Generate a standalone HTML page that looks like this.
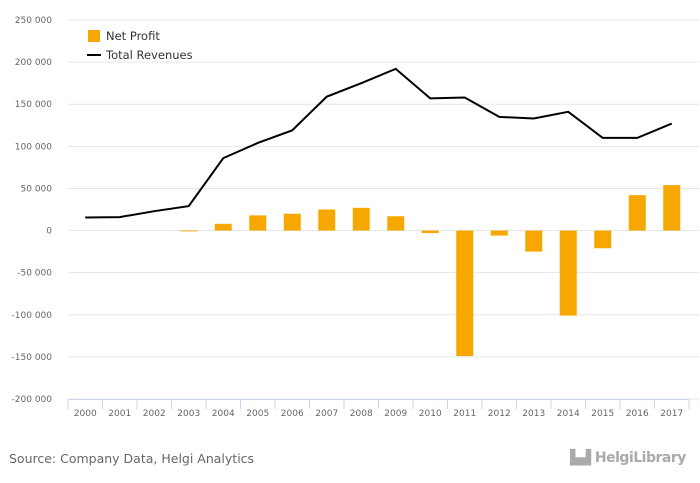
<!DOCTYPE html>
<html><head><meta charset="utf-8"><style>
body{margin:0;background:#fff;font-family:"DejaVu Sans","Liberation Sans",sans-serif;}
#wrap{position:relative;width:700px;height:483px;overflow:hidden;}
</style></head><body><div id="wrap">
<svg id="chart" width="700" height="483" style="font-family:'DejaVu Sans','Liberation Sans',sans-serif"></svg>
<div style="position:absolute;left:9px;top:451px;font-size:12.5px;color:#666;">Source: Company Data, Helgi Analytics</div>
<div style="position:absolute;left:570px;top:450px;font-size:14px;color:#aaa;font-weight:bold;letter-spacing:-0.5px;">▙▟ HelgiLibrary</div>
</div>
<script>
const categories=["2000","2001","2002","2003","2004","2005","2006","2007","2008","2009","2010","2011","2012","2013","2014","2015","2016","2017"];
const netProfit=[0,0,0,-1000,8000,18000,20000,25000,27000,17000,-3000,-149000,-6000,-25000,-101000,-21000,42000,54000];
const revenues=[15500,16000,23000,29000,86000,104000,119000,159000,175000,192000,157000,158000,135000,133000,141000,110000,110000,127000];
const yTicks=[250000,200000,150000,100000,50000,0,-50000,-100000,-150000,-200000];
const yTickLabels=["250 000","200 000","150 000","100 000","50 000","0","-50 000","-100 000","-150 000","-200 000"];
const NS="http://www.w3.org/2000/svg";
const svg=document.getElementById('chart');
const L=68,R=689,T=20,B=399,yMin=-200000,yMax=250000;
const bw=(R-L)/categories.length;
function y(v){return B-(v-yMin)/(yMax-yMin)*(B-T);}
function x(i){return L+bw*(i+0.5);}
function mk(tag,a){const e=document.createElementNS(NS,tag);for(const k in a)e.setAttribute(k,a[k]);svg.appendChild(e);return e;}
yTicks.forEach((t,i)=>{
 const g=mk('line',{x1:L,x2:R+10,y1:y(t),y2:y(t),stroke:'#e6e6e6','stroke-width':1});
 
 
 const tx=mk('text',{x:52,y:y(t)+3,'text-anchor':'end','font-size':9,fill:'#666'});
 tx.textContent=yTickLabels[i];
 
 
});
const ax=mk('line',{x1:L,x2:R,y1:B+0.5,y2:B+0.5,stroke:'#ccd6eb','stroke-width':1});


for(let i=0;i<=categories.length;i++){
 const tk=mk('line',{x1:L+bw*i,x2:L+bw*i,y1:B,y2:B+10,stroke:'#ccd6eb'});
 
 
}
categories.forEach((c,i)=>{
 const t=mk('text',{x:x(i),y:B+17,'text-anchor':'middle','font-size':9,fill:'#666'});
 t.textContent=c;
 
 
 const v=netProfit[i];
 const r=mk('rect',{x:x(i)-8.5,width:17,y:Math.min(y(v),y(0)),height:Math.abs(y(v)-y(0)),fill:'#f7a800'});
 
 
});
const p=mk('path',{d:revenues.map((v,i)=>(i?'L':'M')+x(i)+','+y(v)).join(''),fill:'none',stroke:'#000','stroke-width':2});


const lr=mk('rect',{x:88,y:30,width:12,height:12,fill:'#f7a800'});


const lt=mk('text',{x:106,y:40,'font-size':11.5,fill:'#333'});lt.textContent='Net Profit';


const ll=mk('line',{x1:87,x2:101,y1:55,y2:55,stroke:'#000','stroke-width':2});


const lt2=mk('text',{x:106,y:59,'font-size':11.5,fill:'#333'});lt2.textContent='Total Revenues';


</script></body></html>
